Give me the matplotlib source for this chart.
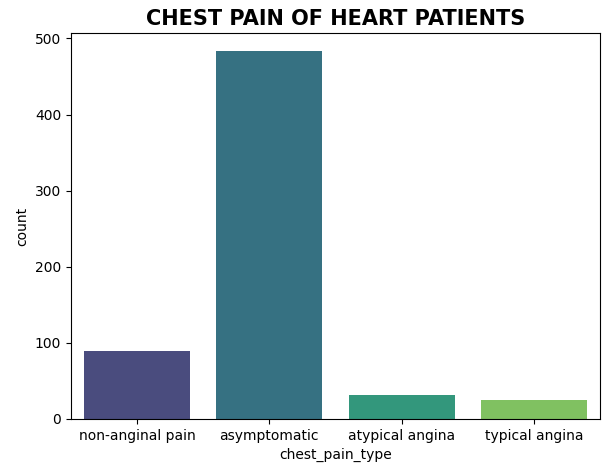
import matplotlib
matplotlib.use("Agg")
import matplotlib.pyplot as plt
import seaborn as sns

chest_pain_type = ["non-anginal pain", "asymptomatic", "atypical angina", "typical angina"]
counts = [89, 483, 32, 25]

fig = plt.figure(figsize=(6.09, 4.72), dpi=100)
ax = fig.add_axes([71/609, 1-419/472, (600-71)/609, (419-33)/472])
sns.barplot(x=chest_pain_type, y=counts, hue=chest_pain_type, palette="viridis", legend=False, ax=ax)
ax.set_title("CHEST PAIN OF HEART PATIENTS", fontsize=15, fontweight="bold")
ax.set_xlabel("chest_pain_type")
ax.set_ylabel("count")
fig.savefig("out.png", dpi=100)
